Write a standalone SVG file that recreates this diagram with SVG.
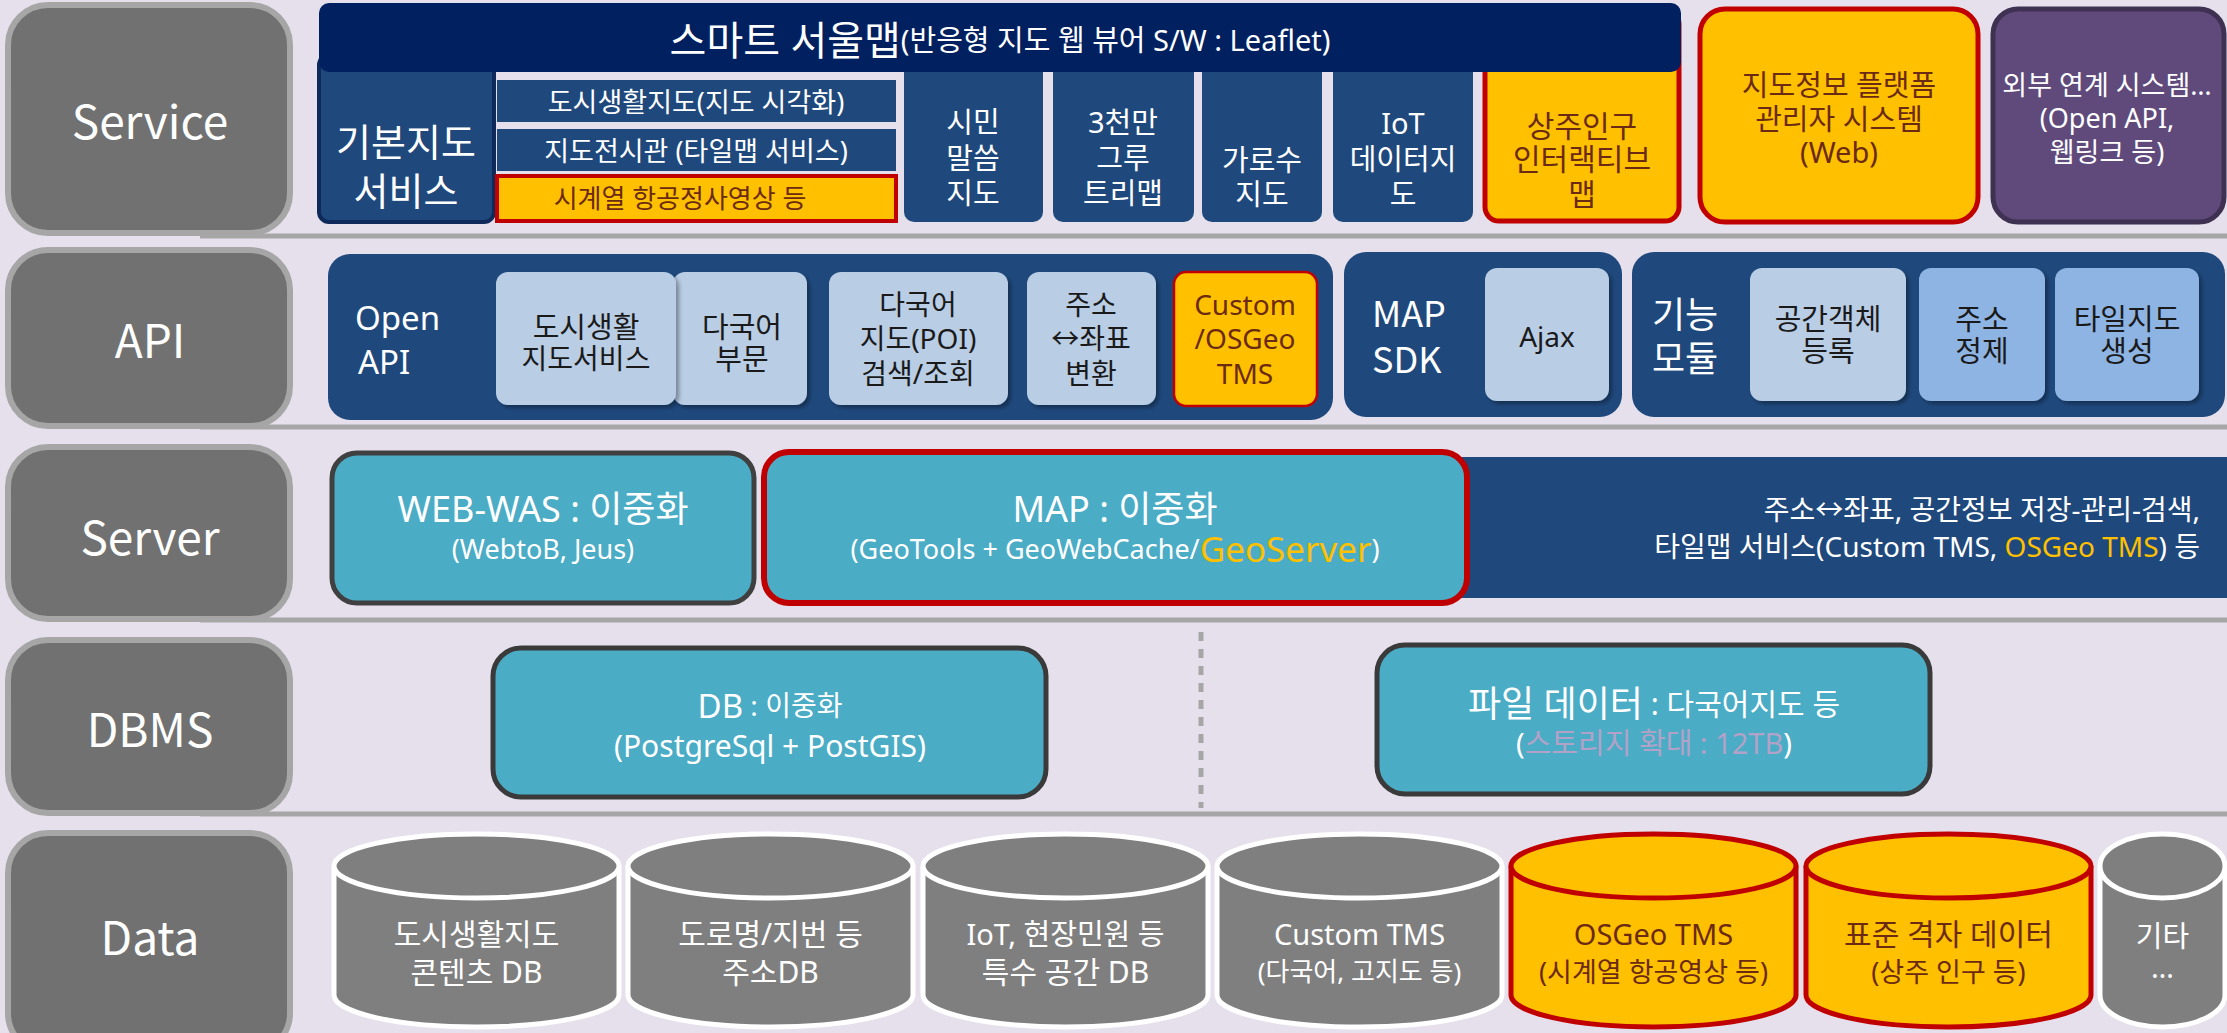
<svg xmlns="http://www.w3.org/2000/svg" width="2227" height="1033" viewBox="0 0 2227 1033">
<defs>
<style>
text{font-family:"Noto Sans","Noto Sans CJK KR",sans-serif;text-anchor:middle;dominant-baseline:central}
.cjk{font-family:"Noto Sans CJK KR",sans-serif}
.w{fill:#ffffff}
.k{fill:#1a1a1a}
.br{fill:#6b2a12}
.lblbox{fill:#717171;stroke:#a6a6a6;stroke-width:6}
.lbltxt{fill:#ffffff;font-size:46px;font-family:"Noto Sans CJK KR",sans-serif}
.sep{stroke:#a6a6a6;stroke-width:5}
.navy{fill:#1f497d}
.yel{fill:#ffc000;stroke:#c00000}
.lb{fill:#b9cde5}
.mb{fill:#8eb4e3}
.teal{fill:#4bacc6}
.cyl{fill:#7f7f7f;stroke:#ffffff;stroke-width:5}
.cyly{fill:#ffc000;stroke:#c00000;stroke-width:5}
.s26{font-size:26px}
.s27{font-size:27px}
.s28{font-size:28px}
.s29{font-size:29px}
.s30{font-size:30px}
.s36{font-size:36px}
.l{text-anchor:start}
.r{text-anchor:end}
</style>
<filter id="sh" x="-10%" y="-10%" width="130%" height="130%">
<feDropShadow dx="3" dy="3" stdDeviation="2" flood-color="#000" flood-opacity="0.35"/>
</filter>
</defs>
<rect width="2227" height="1033" fill="#e6e0ec"/>

<g id="separators">
<line class="sep" x1="200" y1="236" x2="2227" y2="236"/>
<line class="sep" x1="200" y1="427" x2="2227" y2="427"/>
<line class="sep" x1="200" y1="620" x2="2227" y2="620"/>
<line class="sep" x1="200" y1="814" x2="2227" y2="814"/>
<line x1="1201" y1="632" x2="1201" y2="808" stroke="#a6a6a6" stroke-width="5" stroke-dasharray="9 8"/>
</g>

<!-- Layer labels -->
<g id="label-service"><rect class="lblbox" x="8" y="5" width="282" height="228" rx="40"/><text class="lbltxt" x="150" y="119">Service</text></g>
<g id="label-api"><rect class="lblbox" x="8" y="250" width="282" height="176" rx="40"/><text class="lbltxt" x="150" y="338">API</text></g>
<g id="label-server"><rect class="lblbox" x="8" y="447" width="282" height="172" rx="40"/><text class="lbltxt" x="150" y="535">Server</text></g>
<g id="label-dbms"><rect class="lblbox" x="8" y="640" width="282" height="173" rx="40"/><text class="lbltxt" x="150" y="727">DBMS</text></g>
<g id="label-data"><rect class="lblbox" x="8" y="833" width="282" height="220" rx="40"/><text class="lbltxt" x="150" y="935">Data</text></g>

<!-- Service row -->
<g id="basic-map-service"><rect x="319" y="55" width="175" height="167" rx="10" class="navy" stroke="#0f2a5a" stroke-width="4"/><text class="w" font-size="38px" x="406" y="141">기본지도</text><text class="w" font-size="38px" x="406" y="190">서비스</text></g>
<g id="city-life-map"><rect x="497" y="80" width="399" height="42" class="navy"/><text class="w s27" x="696" y="101">도시생활지도(지도 시각화)</text></g>
<g id="map-gallery"><rect x="497" y="129" width="399" height="42" class="navy"/><text class="w s27" x="696" y="150">지도전시관 (타일맵 서비스)</text></g>
<g id="aerial-photo"><rect x="497" y="176" width="399" height="45" class="yel" stroke-width="4"/><text class="br s26" x="680" y="198">시계열 항공정사영상 등</text></g>
<g id="citizen-map"><rect x="904" y="55" width="139" height="167" rx="10" class="navy"/><text class="w s29" x="973" y="121">시민</text><text class="w s29" x="973" y="157">말씀</text><text class="w s29" x="973" y="192">지도</text></g>
<g id="tree-map"><rect x="1053" y="55" width="141" height="167" rx="10" class="navy"/><text class="w s29" x="1123" y="121">3천만</text><text class="w s29" x="1123" y="157">그루</text><text class="w s29" x="1123" y="192">트리맵</text></g>
<g id="street-tree-map"><rect x="1202" y="55" width="120" height="167" rx="10" class="navy"/><text class="w s29" x="1262" y="159">가로수</text><text class="w s29" x="1262" y="193">지도</text></g>
<g id="iot-map"><rect x="1333" y="55" width="140" height="167" rx="10" class="navy"/><text class="w s29" x="1403" y="122">IoT</text><text class="w s29" x="1403" y="158">데이터지</text><text class="w s29" x="1403" y="193">도</text></g>
<g id="population-map"><rect x="1485" y="10" width="194" height="211" rx="14" class="yel" stroke-width="5"/><text class="br s30" x="1582" y="125">상주인구</text><text class="br s30" x="1582" y="158">인터랙티브</text><text class="br s30" x="1582" y="193">맵</text></g>
<g id="smart-seoul-map"><rect x="319" y="3" width="1362" height="69" rx="10" fill="#002060"/><text class="w" x="1000" y="39"><tspan font-size="40px">스마트 서울맵</tspan><tspan font-size="29px">(반응형 지도 웹 뷰어 S/W : Leaflet)</tspan></text></g>
<g id="admin-system"><rect x="1700" y="9" width="278" height="213" rx="25" class="yel" stroke-width="5"/><text class="br s29" x="1839" y="84">지도정보 플랫폼</text><text class="br s29" x="1839" y="118">관리자 시스템</text><text class="br s29" x="1839" y="151">(Web)</text></g>
<g id="external-system"><rect x="1993" y="9" width="231" height="213" rx="25" fill="#604a7b" stroke="#3f3151" stroke-width="5"/><text class="w s27" x="2107" y="84">외부 연계 시스템…</text><text class="w s27" x="2107" y="117">(Open API,</text><text class="w s27" x="2107" y="151">웹링크 등)</text></g>

<!-- API row -->
<g id="open-api"><rect x="328" y="254" width="1005" height="166" rx="22" class="navy"/><text class="w l" font-size="33px" x="355" y="317">Open</text><text class="w l" font-size="33px" x="358" y="361">API</text></g>
<g id="api-multilang"><rect x="673" y="272" width="134" height="133" rx="12" class="lb" filter="url(#sh)"/><text class="k s29" x="742" y="326">다국어</text><text class="k s29" x="742" y="358">부문</text></g>
<g id="api-citylife"><rect x="496" y="272" width="180" height="133" rx="12" class="lb" filter="url(#sh)"/><text class="k s29" x="586" y="326">도시생활</text><text class="k s28" x="586" y="358">지도서비스</text></g>
<g id="api-poi"><rect x="829" y="272" width="179" height="133" rx="12" class="lb" filter="url(#sh)"/><text class="k s28" x="918" y="304">다국어</text><text class="k s28" x="918" y="338">지도(POI)</text><text class="k s28" x="918" y="373">검색/조회</text></g>
<g id="api-geocode"><rect x="1027" y="272" width="129" height="133" rx="12" class="lb" filter="url(#sh)"/><text class="k s28" x="1091" y="304">주소</text><text class="k s28" x="1091" y="338">↔좌표</text><text class="k s28" x="1091" y="373">변환</text></g>
<g id="api-tms"><rect x="1174" y="272" width="143" height="134" rx="12" class="yel" stroke-width="2.5"/><text class="br s28" x="1245" y="304">Custom</text><text class="br s28" x="1245" y="338">/OSGeo</text><text class="br s28" x="1245" y="373">TMS</text></g>
<g id="map-sdk"><rect x="1344" y="252" width="278" height="165" rx="22" class="navy"/><text class="w s36 l cjk" x="1372" y="311">MAP</text><text class="w s36 l cjk" x="1372" y="357">SDK</text></g>
<g id="ajax"><rect x="1485" y="268" width="124" height="133" rx="12" class="lb" filter="url(#sh)"/><text class="k s28" x="1547" y="336">Ajax</text></g>
<g id="function-module"><rect x="1632" y="252" width="593" height="165" rx="22" class="navy"/><text class="w s36 l" x="1652" y="314">기능</text><text class="w s36 l" x="1652" y="358">모듈</text></g>
<g id="spatial-register"><rect x="1750" y="268" width="156" height="133" rx="12" class="lb" filter="url(#sh)"/><text class="k s29" x="1828" y="318">공간객체</text><text class="k s29" x="1828" y="350">등록</text></g>
<g id="address-refine"><rect x="1919" y="268" width="126" height="133" rx="12" class="mb" filter="url(#sh)"/><text class="k s29" x="1982" y="318">주소</text><text class="k s29" x="1982" y="350">정제</text></g>
<g id="tile-gen"><rect x="2055" y="268" width="144" height="133" rx="12" class="mb" filter="url(#sh)"/><text class="k s29" x="2127" y="318">타일지도</text><text class="k s29" x="2127" y="350">생성</text></g>

<!-- Server row -->
<g id="server-functions"><rect x="1440" y="457" width="1781" height="141" class="navy"/><text class="w s28 r" x="2200" y="509">주소↔좌표, 공간정보 저장-관리-검색,</text><text class="w s28 r" x="2200" y="546">타일맵 서비스(Custom TMS, <tspan fill="#ffc000">OSGeo TMS</tspan>) 등</text></g>
<g id="web-was"><rect x="332" y="453" width="422" height="150" rx="25" class="teal" stroke="#404040" stroke-width="5"/><text class="w" font-size="36px" x="543" y="508">WEB-WAS : 이중화</text><text class="w s27" x="543" y="548">(WebtoB, Jeus)</text></g>
<g id="map-server"><rect x="764" y="452" width="703" height="151" rx="25" class="teal" stroke="#c00000" stroke-width="6"/><text class="w" font-size="36px" x="1115" y="508">MAP : 이중화</text><text class="w s27" x="1115" y="548">(GeoTools + GeoWebCache/<tspan fill="#ffc000" font-size="35px">GeoServer</tspan>)</text></g>

<!-- DBMS row -->
<g id="db"><rect x="493" y="648" width="553" height="149" rx="28" class="teal" stroke="#3a3a3a" stroke-width="5"/><text class="w" x="770" y="705"><tspan font-size="33px">DB</tspan><tspan font-size="28px"> : 이중화</tspan></text><text class="w s30" x="770" y="745">(PostgreSql + PostGIS)</text></g>
<g id="file-data"><rect x="1377" y="645" width="553" height="149" rx="28" class="teal" stroke="#3a3a3a" stroke-width="5"/><text class="w" x="1654" y="703"><tspan font-size="36px">파일 데이터</tspan><tspan font-size="30px"> : 다국어지도 등</tspan></text><text class="w s29" x="1654" y="742">(<tspan fill="#b3a2c7">스토리지 확대 : 12TB</tspan>)</text></g>

<!-- Data row -->
<g id="db-citylife"><path class="cyl" d="M334,866 L334,995 A142.5,32 0 0 0 619,995 L619,866"/><ellipse class="cyl" cx="476.5" cy="866" rx="142.5" ry="32"/><text class="w s30" x="476.5" y="933">도시생활지도</text><text class="w s30" x="476.5" y="971">콘텐츠 DB</text></g>
<g id="db-address"><path class="cyl" d="M628,866 L628,995 A142.5,32 0 0 0 913,995 L913,866"/><ellipse class="cyl" cx="770.5" cy="866" rx="142.5" ry="32"/><text class="w s30" x="770.5" y="933">도로명/지번 등</text><text class="w s30" x="770.5" y="971">주소DB</text></g>
<g id="db-iot"><path class="cyl" d="M923,866 L923,995 A142.5,32 0 0 0 1208,995 L1208,866"/><ellipse class="cyl" cx="1065.5" cy="866" rx="142.5" ry="32"/><text class="w s29" x="1065.5" y="933">IoT, 현장민원 등</text><text class="w s30" x="1065.5" y="971">특수 공간 DB</text></g>
<g id="db-custom-tms"><path class="cyl" d="M1217,866 L1217,995 A142.5,32 0 0 0 1502,995 L1502,866"/><ellipse class="cyl" cx="1359.5" cy="866" rx="142.5" ry="32"/><text class="w s29" x="1359.5" y="933">Custom TMS</text><text class="w s26" x="1359.5" y="971">(다국어, 고지도 등)</text></g>
<g id="db-osgeo-tms"><path class="cyly" d="M1511,866 L1511,995 A142.5,32 0 0 0 1796,995 L1796,866"/><ellipse class="cyly" cx="1653.5" cy="866" rx="142.5" ry="32"/><text class="br s29" x="1653.5" y="933">OSGeo TMS</text><text class="br s27" x="1653.5" y="971">(시계열 항공영상 등)</text></g>
<g id="db-grid"><path class="cyly" d="M1806,866 L1806,995 A142.5,32 0 0 0 2091,995 L2091,866"/><ellipse class="cyly" cx="1948.5" cy="866" rx="142.5" ry="32"/><text class="br s30" x="1948.5" y="933">표준 격자 데이터</text><text class="br s27" x="1948.5" y="971">(상주 인구 등)</text></g>
<g id="db-etc"><path class="cyl" d="M2100,866 L2100,995 A62.5,32 0 0 0 2225,995 L2225,866"/><ellipse class="cyl" cx="2162.5" cy="866" rx="62.5" ry="32"/><text class="w s29" x="2162.5" y="935">기타</text><text class="w s29" x="2162.5" y="966">…</text></g>
</svg>
